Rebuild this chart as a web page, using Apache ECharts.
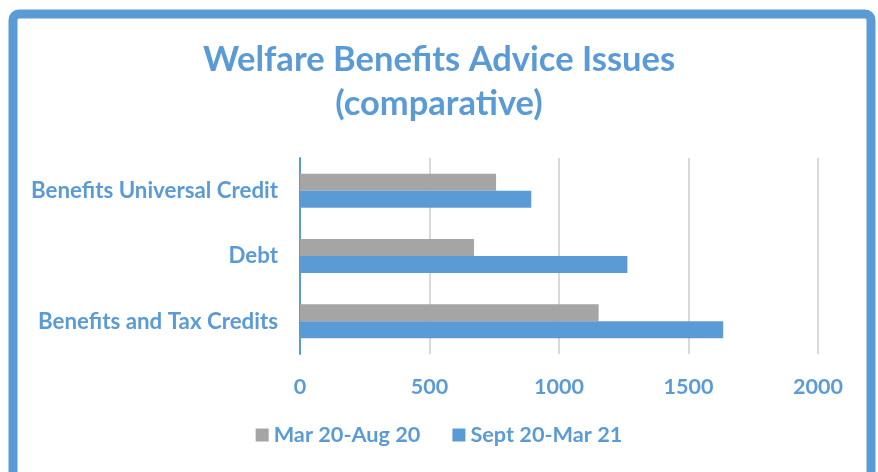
<!DOCTYPE html>
<html>
<head>
<meta charset="utf-8">
<script src="https://cdn.jsdelivr.net/npm/echarts@6/dist/echarts.min.js"></script>
<style>
html,body{margin:0;padding:0;background:#fff;}
#chart{width:878px;height:472px;}
</style>
</head>
<body>
<div id="chart"></div>
<script>
const categories = ["Benefits and Tax Credits", "Debt", "Benefits Universal Credit"];
const seriesNames = ["Mar 20-Aug 20", "Sept 20-Mar 21"];
const marAug20 = [1153, 672, 757];
const septMar21 = [1634, 1264, 893];
const xTicks = [0, 500, 1000, 1500, 2000];

const BLUE = '#5B9BD5';
const GRAY = '#A5A5A5';
const FONT = 'Lato';

const chart = echarts.init(document.getElementById('chart'), null, {renderer: 'canvas'});
chart.setOption({
  backgroundColor: '#ffffff',
  animation: false,
  graphic: [{
    type: 'rect',
    shape: {x: 13, y: 14, width: 858, height: 500, r: 6},
    style: {fill: 'none', stroke: BLUE, lineWidth: 9},
    silent: true,
    z: 100
  }],
  title: {
    text: 'Welfare Benefits Advice Issues\n(comparative)',
    left: 'center',
    top: 33,
    textStyle: {
      color: BLUE,
      fontFamily: FONT,
      fontWeight: 'bold',
      fontSize: 34.5,
      lineHeight: 44
    }
  },
  legend: {
    data: seriesNames,
    bottom: 21,
    left: 'center',
    icon: 'rect',
    itemWidth: 13,
    itemHeight: 13,
    itemGap: 32,
    textStyle: {color: BLUE, fontFamily: FONT, fontWeight: 'bold', fontSize: 21.7}
  },
  grid: {left: 300, right: 60, top: 158, bottom: 118, containLabel: false},
  xAxis: {
    type: 'value',
    min: xTicks[0],
    max: xTicks[xTicks.length - 1],
    interval: 500,
    axisLine: {show: false},
    axisTick: {show: false},
    axisLabel: {color: BLUE, fontFamily: FONT, fontWeight: 'bold', fontSize: 21.5, margin: 22, formatter: v => String(v)},
    splitLine: {lineStyle: {color: '#D9D9D9', width: 2}}
  },
  yAxis: {
    type: 'category',
    data: categories,
    axisLine: {lineStyle: {color: BLUE, width: 2}},
    axisTick: {show: false},
    axisLabel: {color: BLUE, fontFamily: FONT, fontWeight: 'bold', fontSize: 22.3, margin: 22}
  },
  series: [
    {name: seriesNames[0], type: 'bar', data: marAug20, barWidth: 17, barGap: '0%', itemStyle: {color: GRAY}},
    {name: seriesNames[1], type: 'bar', data: septMar21, barWidth: 17, barGap: '0%', itemStyle: {color: BLUE}}
  ]
});
</script>
</body>
</html>
